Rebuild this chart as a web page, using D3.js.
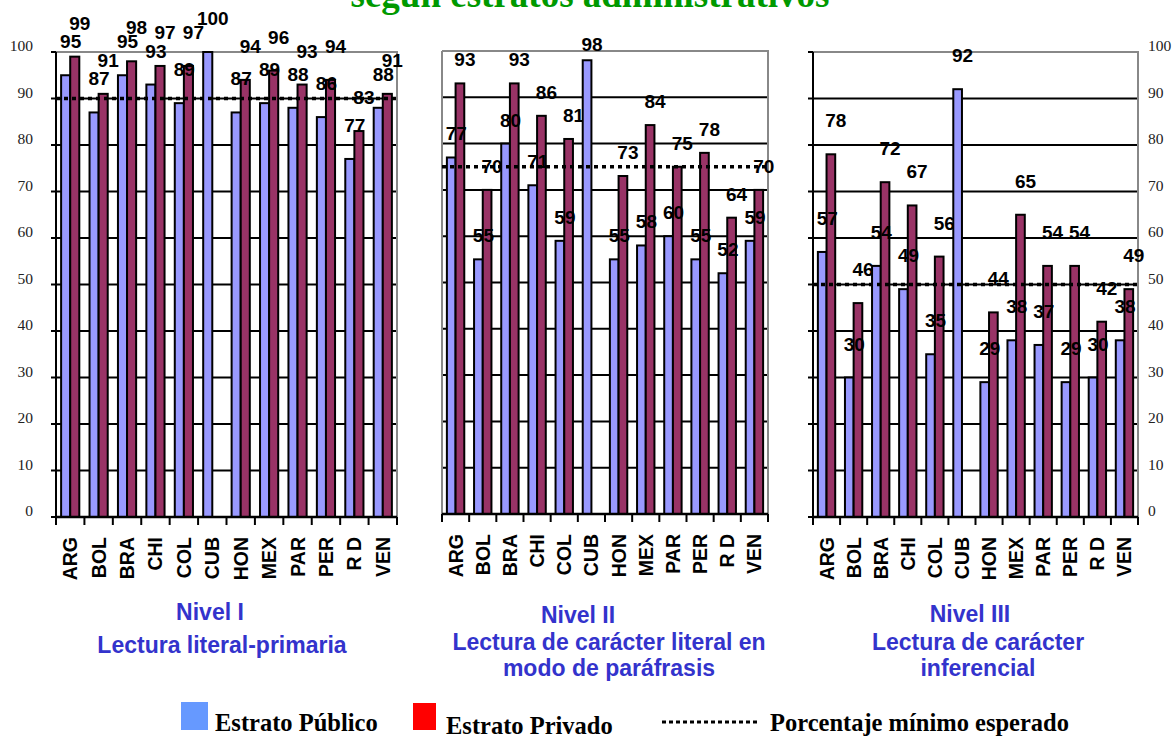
<!DOCTYPE html>
<html>
<head>
<meta charset="utf-8">
<script src="https://cdn.jsdelivr.net/npm/d3@7"></script>
<style>
  html, body { margin: 0; padding: 0; background: #fff; }
  svg { display: block; }
</style>
</head>
<body>
<div id="chart"></div>
<script>
// ---------------- DATA ----------------
const categories = ["ARG", "BOL", "BRA", "CHI", "COL", "CUB", "HON", "MEX", "PAR", "PER", "R D", "VEN"];

const nivel1Publico = [95, 87, 95, 93, 89, 100, 87, 89, 88, 86, 77, 88];
const nivel1Privado = [99, 91, 98, 97, 97, null, 94, 96, 93, 94, 83, 91];

const nivel2Publico = [77, 55, 80, 71, 59, 98, 55, 58, 60, 55, 52, 59];
const nivel2Privado = [93, 70, 93, 86, 81, null, 73, 84, 75, 78, 64, 70];

const nivel3Publico = [57, 30, 54, 49, 35, 92, 29, 38, 37, 29, 30, 38];
const nivel3Privado = [78, 46, 72, 67, 56, null, 44, 65, 54, 54, 42, 49];

const minimoEsperado = [90, 75, 50];

const yTicks = [0, 10, 20, 30, 40, 50, 60, 70, 80, 90, 100];

const seriesNames = ["Estrato Público", "Estrato Privado"];
const minimoName = "Porcentaje mínimo esperado";

const panelTitles = [
  ["Nivel I", "Lectura literal-primaria"],
  ["Nivel II", "Lectura de carácter literal en", "modo de paráfrasis"],
  ["Nivel III", "Lectura de carácter", "inferencial"]
];

const titleText = "según estratos administrativos";

// ---------------- LAYOUT / STYLE ----------------
const W = 1172, H = 736;
const colPublico = "#9999FF", colPrivado = "#993366";
const legPublico = "#6699FF", legPrivado = "#FF0000";
const captionColor = "#3333CC";
const sans = "'Liberation Sans', Arial, sans-serif";
const serif = "'Liberation Serif', 'Times New Roman', serif";

const panels = [
  { x0: 56, x1: 397, y0: 52, y1: 517, leftColor: "#000", yLabels: "left", labelOffset: 34, labelMin: -Infinity,
    pub: nivel1Publico, priv: nivel1Privado, caption: { cx: [210, 222], by: [620, 653] } },
  { x0: 442, x1: 768, y0: 51, y1: 514, leftColor: "#888", yLabels: null, labelOffset: 24, labelMin: 51,
    pub: nivel2Publico, priv: nivel2Privado, caption: { cx: [578, 609, 609], by: [623, 650, 676] } },
  { x0: 813, x1: 1138, y0: 52, y1: 517, leftColor: "#000", yLabels: "right", labelOffset: 34, labelMin: -Infinity,
    pub: nivel3Publico, priv: nivel3Privado, caption: { cx: [970, 978, 978], by: [622, 650, 676] } }
];

const svg = d3.select("#chart").append("svg")
  .attr("width", W).attr("height", H)
  .attr("viewBox", `0 0 ${W} ${H}`);

// Title (cut at top in the original)
svg.append("text")
  .attr("x", 590).attr("y", 7)
  .attr("text-anchor", "middle")
  .attr("font-family", serif).attr("font-weight", "bold")
  .attr("font-size", 37).attr("fill", "#009900")
  .text(titleText);

panels.forEach((p, pi) => {
  const g = svg.append("g");
  const y = d3.scaleLinear().domain([0, 100]).range([p.y1, p.y0]);
  const x = d3.scaleBand().domain(categories).range([p.x0, p.x1])
    .paddingInner(0.36).paddingOuter(0.18);
  const xs = d3.scaleBand().domain(["pub", "priv"]).range([0, x.bandwidth()]);

  // gridlines
  g.append("g").selectAll("line").data(yTicks.filter(t => t > 0 && t < 100)).join("line")
    .attr("x1", p.x0).attr("x2", p.x1)
    .attr("y1", d => y(d)).attr("y2", d => y(d))
    .attr("stroke", "#000").attr("stroke-width", 2);

  // border: top + right gray
  g.append("path")
    .attr("d", `M${p.x0},${p.y0}H${p.x1}V${p.y1}`)
    .attr("fill", "none").attr("stroke", "#888").attr("stroke-width", 2);
  // left axis
  g.append("line")
    .attr("x1", p.x0).attr("x2", p.x0).attr("y1", p.y0).attr("y2", p.y1)
    .attr("stroke", p.leftColor).attr("stroke-width", 2);

  if (p.leftColor === "#000") {
    // left outward ticks
    g.append("g").selectAll("line").data(yTicks).join("line")
      .attr("x1", p.x0 - 5).attr("x2", p.x0)
      .attr("y1", d => y(d)).attr("y2", d => y(d))
      .attr("stroke", "#000").attr("stroke-width", 2);
  }

  // y labels
  if (p.yLabels) {
    g.append("g").selectAll("text").data(yTicks).join("text")
      .attr("x", p.yLabels === "left" ? 33 : 1148)
      .attr("y", d => y(d) - 1)
      .attr("text-anchor", p.yLabels === "left" ? "end" : "start")
      .attr("font-family", serif).attr("font-size", 15.5).attr("fill", "#222")
      .text(d => d);
  }

  // bars
  const rows = categories.map((c, i) => ({ c, pub: p.pub[i], priv: p.priv[i] }));
  const grp = g.append("g").selectAll("g").data(rows).join("g")
    .attr("transform", d => `translate(${x(d.c)},0)`);
  ["pub", "priv"].forEach(key => {
    grp.filter(d => d[key] != null).append("rect")
      .attr("x", xs(key)).attr("width", xs.bandwidth())
      .attr("y", d => y(d[key])).attr("height", d => y(0) - y(d[key]))
      .attr("fill", key === "pub" ? colPublico : colPrivado)
      .attr("stroke", "#000").attr("stroke-width", 2);
  });

  // minimum expected dotted line
  g.append("line")
    .attr("x1", p.x0).attr("x2", p.x1)
    .attr("y1", y(minimoEsperado[pi])).attr("y2", y(minimoEsperado[pi]))
    .attr("stroke", "#000").attr("stroke-width", 3.5)
    .attr("stroke-dasharray", "4,4");

  // data labels
  ["pub", "priv"].forEach(key => {
    grp.filter(d => d[key] != null).append("text")
      .attr("x", xs(key) + xs.bandwidth() / 2 + 5)
      .attr("y", d => Math.max(y(d[key]) - p.labelOffset + 7, p.labelMin))
      .attr("text-anchor", "middle")
      .attr("font-family", sans).attr("font-weight", "bold").attr("font-size", 19)
      .attr("fill", "#000")
      .text(d => d[key]);
  });

  // bottom axis
  g.append("line")
    .attr("x1", p.x0).attr("x2", p.x1).attr("y1", p.y1).attr("y2", p.y1)
    .attr("stroke", "#000").attr("stroke-width", 2.5);
  const step = x.step();
  g.append("g").selectAll("line").data(d3.range(categories.length + 1)).join("line")
    .attr("x1", i => p.x0 + i * step).attr("x2", i => p.x0 + i * step)
    .attr("y1", p.y1).attr("y2", p.y1 + 8)
    .attr("stroke", "#000").attr("stroke-width", 2);

  // category labels
  g.append("g").selectAll("text").data(categories).join("text")
    .attr("transform", d => `translate(${x(d) + x.bandwidth() / 2 + 7},${p.y1 + 20}) rotate(-90)`)
    .attr("text-anchor", "end")
    .attr("font-family", sans).attr("font-weight", "bold").attr("font-size", 19.5)
    .attr("fill", "#000")
    .text(d => d);

  // captions
  panelTitles[pi].forEach((t, k) => {
    svg.append("text")
      .attr("x", p.caption.cx[k]).attr("y", p.caption.by[k])
      .attr("text-anchor", "middle")
      .attr("font-family", sans).attr("font-weight", "bold").attr("font-size", 23)
      .attr("fill", captionColor)
      .text(t);
  });
});

// ---------------- LEGEND ----------------
const leg = svg.append("g");
leg.append("rect").attr("x", 181).attr("y", 702).attr("width", 27).attr("height", 28).attr("fill", legPublico);
leg.append("text").attr("x", 215).attr("y", 731)
  .attr("font-family", serif).attr("font-weight", "bold").attr("font-size", 24.5).attr("fill", "#000")
  .text(seriesNames[0]);
leg.append("rect").attr("x", 413).attr("y", 703).attr("width", 23).attr("height", 27).attr("fill", legPrivado);
leg.append("text").attr("x", 446).attr("y", 734)
  .attr("font-family", serif).attr("font-weight", "bold").attr("font-size", 24.5).attr("fill", "#000")
  .text(seriesNames[1]);
leg.append("line").attr("x1", 662).attr("x2", 758).attr("y1", 722).attr("y2", 722)
  .attr("stroke", "#000").attr("stroke-width", 3).attr("stroke-dasharray", "4,3");
leg.append("text").attr("x", 770).attr("y", 731)
  .attr("font-family", serif).attr("font-weight", "bold").attr("font-size", 24.5).attr("fill", "#000")
  .text(minimoName);
</script>
</body>
</html>
